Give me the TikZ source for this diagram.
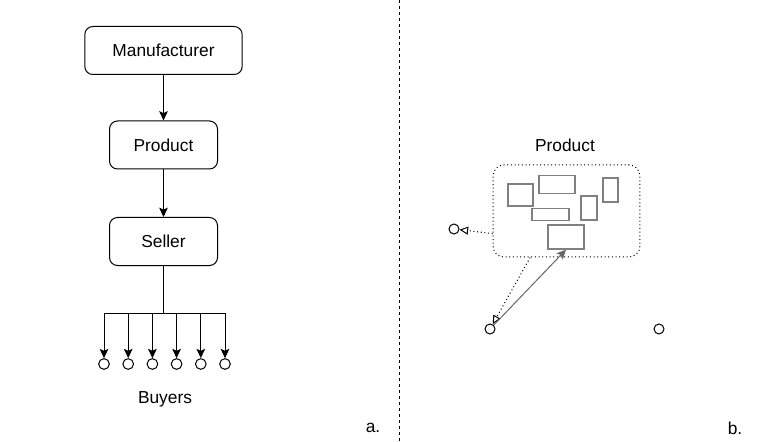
\documentclass[tikz,border=0pt]{standalone}
\usepackage{fontspec}
\setmainfont{Liberation Sans}
\usetikzlibrary{shapes,arrows,arrows.meta,positioning,shapes.misc,shapes.geometric}

\begin{document}
\begin{tikzpicture}[x=0.75pt,y=-0.75pt]
\tikzset{base/.style={text=black, align=center,draw,line width=0.75pt}, }
\tikzset{testobase/.style={font=\fontsize{13}{15}\selectfont}, }
\tikzset{testo/.style={testobase,inner sep=0pt}, }
\tikzset{main node/.style={testobase,base,rounded corners=6pt,minimum width=81pt,minimum height=36pt}, }
\tikzset{buyer node/.style={base,circle,inner sep=0pt,minimum size=8pt}, }
\tikzset{gruppo node/.style={base,dotted,rounded corners=8pt,minimum width=110pt,minimum height=69pt}, }
\tikzset{parte node/.style={base,draw=black!50,line width=1pt,inner sep=0pt}, }
\tikzset{linea/.style={line width=0.75pt,-{Stealth[length=7pt,width=6.5pt,inset=1.5pt]}},}
\tikzset{lineaapert/.style={line width=0.75pt,dotted,-{Triangle[open,length=6.5pt,width=6pt,line width=0.75pt]}},}
\tikzset{lineagrigia/.style={line width=0.75pt,draw=black!60,-{Stealth[length=7pt,width=6.5pt,inset=1.5pt]}},}

\useasboundingbox (0,0) rectangle (775,442);

% a.
\node[main node,minimum width=118pt] (manu) at (163.5,50.5) {Manufacturer};
\node[main node] (prod) at (163.5,145) {Product};
\node[main node] (sell) at (163.5,241.5) {Seller};
\draw[linea] (manu) -- (prod);
\draw[linea] (prod) -- (sell);
\coordinate (split) at (163.5,313);
\foreach \i in {1,...,6}
  \node[buyer node] (b\i) at ({104+24.2*(\i-1)},364) {};
\draw[line width=0.75pt] (sell) -- (split);
\draw[line width=0.75pt] (b1 |- split) -- (b6 |- split);
\foreach \i in {1,...,6}
  \draw[linea] (b\i |- split) -- (b\i);
\node[testo] (buyers) at (165,399) {Buyers};
\node[testo] (a) at (373,428) {a.};

\draw[line width=0.75pt,dash pattern=on 2.25pt off 2.25pt] (399,0) -- (399,442);

% b.
\node[testo] (titolo) at (565,145) {Product};
\node[gruppo node] (gruppo) at (566.5,211) {};
\node[parte node,minimum width=18.75pt,minimum height=16.5pt] (p1) at (520.5,195) {};
\node[parte node,minimum width=27pt,minimum height=13.5pt] (p2) at (557,184.5) {};
\node[parte node,minimum width=11.25pt,minimum height=18pt] (p3) at (610.5,190) {};
\node[parte node,minimum width=12pt,minimum height=18pt] (p4) at (589,208) {};
\node[parte node,minimum width=27.75pt,minimum height=9pt] (p5) at (550.5,214.5) {};
\node[parte node,minimum width=27pt,minimum height=18pt] (p6) at (566,237) {};
\node[buyer node,minimum size=7.5pt] (c1) at (454,229) {};
\node[buyer node,minimum size=7.5pt] (c2) at (490,329) {};
\node[buyer node,minimum size=7.5pt] (c3) at (659,329) {};
\draw[lineaapert] (gruppo.197) -- (c1);
\draw[lineaapert] (gruppo.232) -- (c2);
\draw[lineagrigia] (c2) -- (p6.south);
\node[testo] (b) at (735,428) {b.};
\end{tikzpicture}
\end{document}
